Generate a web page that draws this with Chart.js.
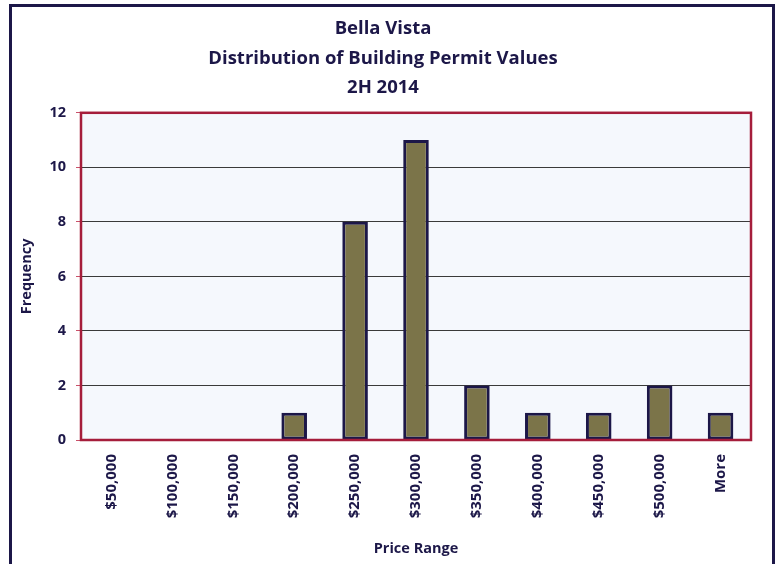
<!DOCTYPE html>
<html>
<head>
<meta charset="utf-8">
<script src="https://cdn.jsdelivr.net/npm/chart.js@4/dist/chart.umd.min.js"></script>
<style>
  html, body { margin: 0; padding: 0; background: #ffffff; }
  #wrap { position: absolute; left: 0; top: 0; width: 777px; height: 564px; }
</style>
</head>
<body>
<div id="wrap"><canvas id="c" width="777" height="564"></canvas></div>
<script>
const titleLines = ["Bella Vista", "Distribution of Building Permit Values", "2H 2014"];
const categories = ["$50,000", "$100,000", "$150,000", "$200,000", "$250,000", "$300,000", "$350,000", "$400,000", "$450,000", "$500,000", "More"];
const frequency = [0, 0, 0, 1, 8, 11, 2, 1, 1, 2, 1];
const yTickValues = [0, 2, 4, 6, 8, 10, 12];
const xAxisTitle = "Price Range";
const yAxisTitle = "Frequency";

const NAVY = "#1c1748";
const CRIMSON = "#a51d3b";
const FONT = "'Open Sans', 'Noto Sans', sans-serif";

const framePlugin = {
  id: 'frame',
  beforeDraw(chart) {
    const ctx = chart.ctx;
    const a = chart.chartArea;
    ctx.save();
    ctx.fillStyle = '#ffffff';
    ctx.fillRect(0, 0, chart.width, chart.height);
    ctx.strokeStyle = NAVY;
    ctx.lineWidth = 3;
    ctx.beginPath();
    ctx.moveTo(10.5, chart.height + 10);
    ctx.lineTo(10.5, 5.5);
    ctx.lineTo(773.5, 5.5);
    ctx.lineTo(773.5, chart.height + 10);
    ctx.stroke();
    ctx.fillStyle = '#f5f8fd';
    ctx.fillRect(a.left, a.top, a.right - a.left, a.bottom - a.top);
    ctx.restore();
  },
  afterDatasetsDraw(chart) {
    const ctx = chart.ctx;
    const a = chart.chartArea;
    ctx.save();
    ctx.strokeStyle = CRIMSON;
    ctx.lineWidth = 2.5;
    ctx.strokeRect(a.left, a.top, a.right - a.left, a.bottom - a.top);
    ctx.restore();
  }
};

new Chart(document.getElementById('c'), {
  type: 'bar',
  data: {
    labels: categories,
    datasets: [{
      label: yAxisTitle,
      data: frequency,
      backgroundColor: '#7b7449',
      borderColor: NAVY,
      borderWidth: 3,
      borderSkipped: false,
      categoryPercentage: 1.0,
      barPercentage: 0.42
    }]
  },
  options: {
    responsive: false,
    animation: false,
    devicePixelRatio: 1,
    layout: { padding: { left: 15, right: 26, top: 0, bottom: 0 } },
    plugins: {
      legend: { display: false },
      tooltip: { enabled: false },
      title: {
        display: true,
        text: titleLines,
        color: NAVY,
        font: { family: FONT, size: 18.5, weight: 'bold', lineHeight: 1.6 },
        padding: { top: 14, bottom: 10 }
      }
    },
    scales: {
      x: {
        grid: { display: false, drawTicks: false },
        border: { display: false },
        ticks: {
          color: NAVY,
          font: { family: FONT, size: 15, weight: 'bold' },
          maxRotation: 90,
          minRotation: 90,
          padding: 14,
          autoSkip: false
        },
        title: {
          display: true,
          text: xAxisTitle,
          color: NAVY,
          font: { family: FONT, size: 14.5, weight: 'bold', lineHeight: 1.2 },
          padding: { top: 0, bottom: 6 }
        },
        afterFit(scale) { scale.height = 124; }
      },
      y: {
        min: 0,
        max: 12,
        afterBuildTicks(scale) { scale.ticks = yTickValues.map(v => ({ value: v })); },
        grid: {
          color: '#3a3a3a',
          lineWidth: 1,
          drawTicks: true,
          tickLength: 5,
          tickColor: '#c9516a'
        },
        border: { display: false },
        ticks: {
          color: NAVY,
          font: { family: FONT, size: 14.5, weight: 'bold' },
          padding: 10
        },
        title: {
          display: true,
          text: yAxisTitle,
          color: NAVY,
          font: { family: FONT, size: 14.5, weight: 'bold', lineHeight: 1.2 },
          padding: { top: 3, bottom: 0 }
        },
        afterFit(scale) { scale.width = 66; }
      }
    }
  },
  plugins: [framePlugin]
});
</script>
</body>
</html>
